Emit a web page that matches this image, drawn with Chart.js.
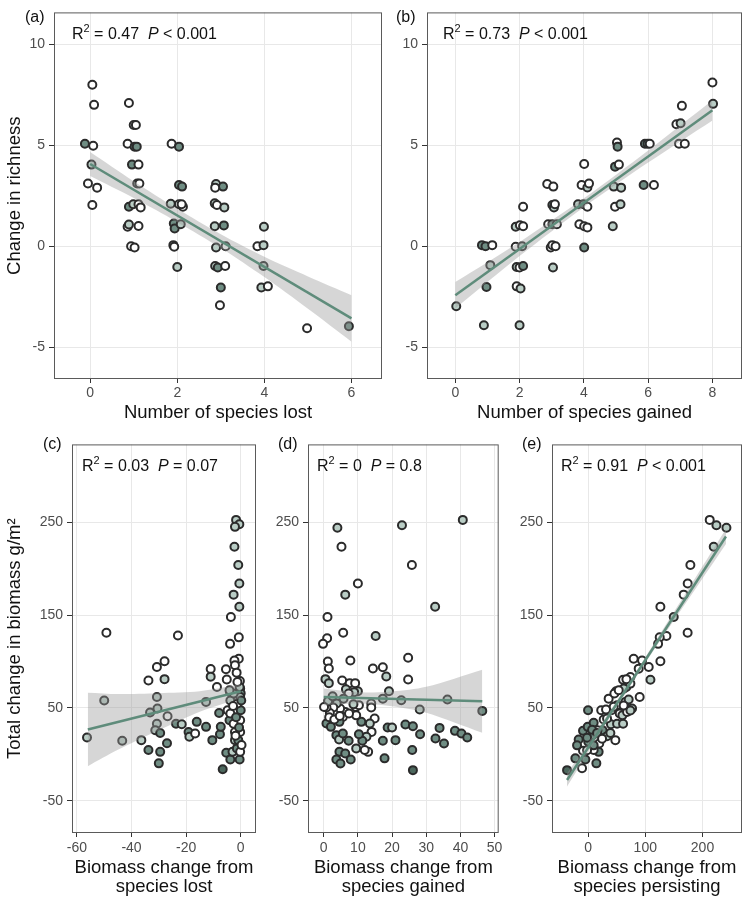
<!DOCTYPE html>
<html>
<head>
<meta charset="utf-8">
<script src="https://cdn.jsdelivr.net/npm/chart.js@4.4.1/dist/chart.umd.min.js"></script>
<style>
body { margin: 0; background: #fff; }
#wrap { position: relative; width: 748px; height: 907px; }
canvas { position: absolute; }
</style>
</head>
<body>
<div id="wrap">
<canvas id="chartA" width="390" height="432" style="left:0;top:0"></canvas>
<canvas id="chartB" width="358" height="432" style="left:390px;top:0"></canvas>
<canvas id="chartC" width="262" height="475" style="left:0;top:432px"></canvas>
<canvas id="chartD" width="243" height="475" style="left:262px;top:432px"></canvas>
<canvas id="chartE" width="243" height="475" style="left:505px;top:432px"></canvas>
</div>
<script>
// (a) species lost vs change in richness
const aX = [0.05, 0.09, -0.12, 0.07, 0.03, -0.05, 0.16, 0.05,
  0.89, 1.0, 1.05, 0.86, 1.02, 1.07, 0.96, 1.11, 1.08, 1.13,
  0.89, 0.99, 1.11, 1.16, 0.86, 0.89, 1.11, 0.94, 1.02,
  1.87, 2.04, 2.04, 2.11, 1.85, 2.04, 2.13, 2.1, 1.92, 1.94, 2.08, 1.91, 1.93, 2.0,
  2.89, 3.05, 2.87, 2.86, 2.91, 3.08, 2.86, 3.07, 2.89, 3.11, 2.87, 2.93, 3.1, 3.0, 2.98,
  3.99, 3.84, 3.98, 3.98, 3.93, 4.08, 4.98, 5.94];
const aY = [8, 7, 5.07, 4.97, 4.04, 3.1, 2.9, 2.04,
  7.09, 6.0, 6.0, 5.07, 4.93, 4.93, 4.04, 4.04, 3.1, 3.1,
  1.95, 2.08, 2.08, 1.92, 0.96, 1.07, 1.0, 0, -0.07,
  5.07, 4.93, 3.03, 2.95, 2.1, 2.08, 1.95, 2.08, 1.12, 0.88, 1.09, 0.05, -0.03, -1.03,
  3.08, 2.95, 2.9, 2.12, 2.04, 1.92, 0.99, 1.03, -0.07, 0, -0.98, -1.06, -0.98, -2.05, -2.93,
  0.96, 0, 0.05, -0.98, -2.05, -1.99, -4.07, -3.97];
const aShade = ['w', 'w', 'm', 'w', 'l', 'w', 'w', 'w',
  'w', 'w', 'w', 'w', 'm', 'm', 'm', 'w', 'l', 'w',
  'm', 'l', 'w', 'w', 'w', 'l', 'w', 'w', 'w',
  'w', 'm', 'm', 'm', 'l', 'w', 'w', 'w', 'm', 'm', 'l', 'w', 'w', 'l',
  'l', 'm', 'w', 'l', 'w', 'l', 'l', 'm', 'l', 'w', 'l', 'm', 'w', 'm', 'w',
  'l', 'w', 'l', 'l', 'l', 'w', 'w', 'm'];
const aLineX = [0, 6];
const aLineY = [4.07, -3.58];
const aBandX = [0, 1, 2, 3, 4, 5, 6];
const aBandHi = [4.67, 3.22, 1.85, 0.59, -0.53, -1.5, -2.43];
const aBandLo = [3.47, 2.38, 1.19, -0.09, -1.53, -3.1, -4.73];

// (b) species gained vs change in richness
const bX = [8.0, 8.02, 7.05, 6.88, 7.01, 6.96, 7.14, 5.9, 5.98, 6.05, 5.86, 6.18,
  5.03, 5.05, 4.97, 5.09, 4.93, 5.16, 4.97, 5.14, 4.9,
  4.01, 3.93, 4.11, 4.16, 3.82, 3.99, 4.11, 3.86, 4.01, 4.11, 4.01,
  2.86, 3.05, 3.02, 3.07, 3.1, 2.89, 3.02, 3.16, 2.97, 3.02, 3.12, 3.04,
  2.11, 1.88, 2.01, 2.11, 1.88, 2.08, 1.91, 2.0, 2.11, 1.91, 2.03, 2.0,
  0.83, 0.94, 1.15, 1.09, 0.97, 0.89, 0.03];
const bY = [8.11, 7.05, 6.95, 6.04, 6.09, 5.07, 5.07, 5.07, 5.07, 5.07, 3.03, 3.03,
  5.13, 4.93, 3.94, 4.04, 2.95, 2.9, 1.95, 2.08, 0.99,
  4.07, 3.03, 2.91, 3.1, 2.08, 2.08, 1.95, 1.09, 0.99, 0.93, -0.07,
  3.08, 2.95, 2.04, 1.92, 2.08, 1.09, 1.09, 1.09, -0.07, 0.05, 0, -1.06,
  1.95, 0.96, 1.04, 0.99, -0.03, 0, -1.03, -1.06, -0.98, -1.99, -2.1, -3.92,
  0.05, 0, 0.05, -0.94, -2.02, -3.92, -2.98];
const bShade = ['w', 'l', 'w', 'w', 'l', 'w', 'w', 'm', 'm', 'w', 'm', 'w',
  'w', 'm', 'm', 'w', 'l', 'l', 'w', 'l', 'l',
  'w', 'w', 'l', 'w', 'l', 'm', 'w', 'w', 'w', 'w', 'm',
  'w', 'w', 'm', 'l', 'w', 'w', 'm', 'w', 'w', 'w', 'w', 'l',
  'w', 'l', 'w', 'w', 'w', 'l', 'l', 'w', 'm', 'w', 'l', 'l',
  'm', 'm', 'w', 'l', 'm', 'l', 'l'];
const bLineX = [0, 8];
const bLineY = [-2.43, 6.73];
const bBandX = [0, 2, 4, 6, 8];
const bBandHi = [-1.78, 0.21, 2.37, 4.74, 7.23];
const bBandLo = [-3.08, -0.49, 1.93, 4.14, 6.23];

// (c) biomass change from species lost
const cX = [-1.7, -0.5, -2.1, -2.3, -0.9, -0.5, -2.6, -0.5, -3.6, -49.2, -23, -0.7, -3.9, -0.7, -2.3, -2.1,
  -27.9, -30.7, -11, -11, -5.4, -5.1, -33.8, -27.9, -0.3, -8.7, -3.9, -0.2, 0,
  -56.3, -50, -43.4, -36.4, -30.7, -30.5, -33.2, -30.7, -31.3, -29.5, -26.8, -27, -33.8, -29.5, -30,
  -23.7, -21.6, -19.1, -18.8, -16.7, -16.1, -12.7, -12.7, -10.4, -7.9, -6.6, -7.6, -7.3, -4.8, -4.1,
  -3.8, -5.3, -3.8, -3.0, -1.4, -0.4, -0.2, -2.1, -0.2, -1.2, -0.2, -2.6, -3.8, -1.7, 0, -1.2,
  -0.2, -2.6, -0.4, -1.2, -4.1, -2.1, -0.9, 0.3, -1.5, 0.2, -2.8, -0.6, -1.9];
const cY = [252.5, 247.8, 245, 223.5, 204, 184, 172, 159, 148, 131, 128, 126, 119, 103, 101, 96,
  100.3, 94, 92, 83.7, 91.7, 80.6, 79.5, 81, 79, 72.5, 67, 71, 65.8,
  18.2, 58, 14.6, 15.3, 61.8, 49.3, 45, 33, 26, 23, 41, 12, 4.6, 2.7, -9.7,
  33, 32.5, 24, 19, 22.5, 35, 56.5, 29.6, 15.3, 44.6, -16, 21.7, 29.6, 47.5, 36.8,
  58, 1.7, -5.5, 2.7, 6.4, -5.5, 2.7, 15.3, 24, 31.4, 36.8, 33, 44, 40, 47.5, 54.7,
  61.8, 65.5, 72.6, 78, 69, 24, 15.3, 10, 88, 58, 52, 29, 20];
const cShade = ['l', 'l', 'l', 'l', 'l', 'l', 'l', 'l', 'w', 'w', 'w', 'w', 'w', 'w', 'w', 'w',
  'w', 'w', 'w', 'l', 'w', 'w', 'w', 'l', 'w', 'w', 'm', 'w', 'm',
  'l', 'l', 'l', 'l', 'l', 'l', 'l', 'l', 'l', 'm', 'w', 'm', 'm', 'm', 'm',
  'm', 'l', 'm', 'l', 'w', 'm', 'l', 'm', 'm', 'm', 'd', 'm', 'm', 'w', 'm',
  'l', 'm', 'm', 'l', 'm', 'm', 'w', 'l', 'w', 'm', 'w', 'w', 'w', 'm', 'm', 'w',
  'l', 'l', 'l', 'w', 'l', 'w', 'm', 'w', 'w', 'm', 'w', 'm', 'w'];
const cLineX = [-56, 0];
const cLineY = [26.8, 67.9];
const cBandX = [-56, -45, -30, -15, 0];
const cBandHi = [66.3, 64.9, 65.9, 67.9, 75.4];
const cBandLo = [-12.7, 4.9, 25.9, 45.9, 60.4];

// (d) biomass change from species gained
const dX = [40.7, 4.0, 22.9, 5.2, 25.8, 10, 6.3, 32.6, 1.1, 5.7, 15.2, 1.0, -0.2, 1.2, 1.5, 7.8,
  24.7, 14.4, 17.3, 18.3, 24.7, 0.5, 5.4, 7.6, 9.2, 1.5, 10, 19.1, 6.5,
  46.4, 36.2, 28.1, 22.7, 17.3, 13.9, 13.9, 14.9, 13.5, 14, 12.5, 13, 12, 11.3, 10.3, 11,
  9.5, 9.4, 10.3, 8.7, 8.9, 7.3, 5.8, 6.3, 4.8, 3.8, 2.8, 1.8, 0.8, 1.3, 2.6, 0.8,
  2.1, 3.7, 4.5, 5.6, 7.3, 4.6, 3.7, 4.9, 6.3, 7.9, 5.6, 4.6, 7.4, 17.8, 17.3, 18.7,
  20, 21, 23.9, 26.1, 28.2, 25.9, 26.1, 32.7, 33.9, 35.2, 38.4, 40.3, 42, 0.1, 1.6, 3.1, 4.7, 9.5];
const dY = [252.5, 244, 246.8, 223.5, 204, 184, 172, 159, 148, 131, 127.4, 125, 119, 100, 92.4, 101,
  104, 92.4, 93.8, 83.8, 80.6, 81, 79.5, 76.7, 76.7, 76.7, 68, 68, 70,
  46.8, 59, 48.3, 58.3, 60, 54.7, 50.4, 38.6, 33.2, 24.2, 19, 2.7, 4.6, 14.6, 21.7, 35,
  42, 51, 53, 54, 67, 65.5, 60, 45.7, 49.3, 54.7, 50.4, 44.6, 50.4, 57.5, 62.6, 33.2,
  29.6, 20.7, 16, 22.5, 14.6, 2.7, -5.5, -9.8, 1, -5.5, 40.3, 35, 44, -4.3, 14.6, 29,
  29, 15.3, 32.2, 30.3, 21.7, 4.6, -17, 17, 28.5, 11.7, 25.3, 22.5, 18.2, 51, 40, 37.5, 41.4, 6.4];
const dShade = ['l', 'l', 'l', 'w', 'w', 'w', 'l', 'l', 'w', 'w', 'l', 'w', 'w', 'w', 'w', 'w',
  'w', 'w', 'w', 'l', 'w', 'l', 'w', 'w', 'w', 'l', 'l', 'l', 'l',
  'm', 'l', 'l', 'l', 'l', 'w', 'w', 'w', 'l', 'w', 'l', 'w', 'w', 'm', 'm', 'm',
  'w', 'w', 'w', 'l', 'l', 'w', 'l', 'w', 'w', 'l', 'w', 'w', 'w', 'l', 'l', 'm',
  'm', 'm', 'l', 'm', 'm', 'm', 'm', 'm', 'm', 'm', 'w', 'm', 'w', 'm', 'm', 'm',
  'l', 'm', 'm', 'm', 'm', 'm', 'd', 'm', 'm', 'm', 'm', 'm', 'm', 'w', 'w', 'w', 'w', 'l'];
const dLineX = [0, 46.4];
const dLineY = [61.8, 57.2];
const dBandX = [0, 10, 20, 30, 46.4];
const dBandHi = [70.8, 66.8, 67.8, 72.8, 91.2];
const dBandLo = [52.8, 54.8, 51.8, 44.8, 23.2];

// (e) biomass change from species persisting
const eX = [212.6, 224.3, 241.8, 219.6, 178.8, 174.1, 167.1, 126.4, 149.7, 174, 136.9, 125.2, 122.4,
  79.7, 94.4, 126.4, 106, 88.5, 74, 61.2, 109, 49, 67, 36, 90.2,
  -36.7, -22.2, -16.4, -8.8, -4.7, -8.8, 0, -0.6, 0.3, 9.8, 8, 14.5, 18.5, 9.8, 19.6, 27.3,
  25.4, 33.2, 46, 40.7, 40, 47.7, 50.7, 55.3, 51, 61.2, 60, 65.2, 71, 76.9, 68.2, 62.2,
  74, 67, 33.2, 23, 16.4, 31.4, 53.6,
  44.8, 62.2, 74, 7, 15.7, 39, -1.7, -19.2, 9.8, 24.5, -1.7, -10.5];
const eY = [252.5, 246.8, 244, 223.5, 204, 184, 172, 159, 148, 131, 127.4, 126, 119,
  103, 101, 100.3, 94, 92.3, 83.3, 80.4, 80.4, 68, 72.6, 60, 61.8,
  -17, -4.3, 16, 25.3, -5.5, 3.8, 47.5, 29.6, 13.5, 33.9, 20.7, -9.7, 2.7, 4.6, 11.7, 37.5,
  26, 19.6, 65.5, 47.5, 32.5, 15.3, 33, 44, 53, 33, 42, 56.5, 59, 49.3, 45.7, 70.8,
  76.2, 81, 38.6, 47.5, 26, 48.3, 69,
  51.2, 52.7, 47.3, 26.5, 23, 23, 18, 9.7, 9.7, 16.9, 4.4, -15];
const eShade = ['w', 'l', 'l', 'l', 'w', 'w', 'w', 'w', 'l', 'w', 'w', 'w', 'w',
  'w', 'w', 'w', 'w', 'w', 'w', 'w', 'l', 'w', 'w', 'w', 'w',
  'd', 'm', 'm', 'm', 'm', 'w', 'm', 'm', 'm', 'm', 'm', 'm', 'm', 'w', 'w', 'w',
  'm', 'l', 'w', 'w', 'l', 'w', 'l', 'w', 'w', 'l', 'l', 'w', 'l', 'l', 'w', 'l',
  'w', 'w', 'w', 'w', 'w', 'w', 'w',
  'w', 'w', 'l', 'm', 'm', 'l', 'm', 'm', 'm', 'w', 'w', 'w'];
const eLineX = [-36.7, 241];
const eLineY = [-27.6, 234.6];
const eBandX = [-37, 40, 100, 241];
const eBandHi = [-20.9, 48.3, 104.4, 242.6];
const eBandLo = [-34.9, 41.3, 98.4, 226.6];

// axes
const richTicks = [-5, 0, 5, 10];
const massTicks = [-50, 50, 150, 250];
const aXTicks = [0, 2, 4, 6];
const bXTicks = [0, 2, 4, 6, 8];
const cXTicks = [-60, -40, -20, 0];
const dXTicks = [0, 10, 20, 30, 40, 50];
const eXTicks = [0, 100, 200];

const shadeColors = { w: '#ffffff', l: '#b9cdc5', m: '#6f8d83', d: '#4c675d' };
const FONT = '"Liberation Sans", Arial, sans-serif';
Chart.defaults.font.family = FONT;

const panelDecor = {
  id: 'panelDecor',
  afterDraw(chart, args, o) {
    const ctx = chart.ctx, a = chart.chartArea;
    ctx.save();
    ctx.strokeStyle = '#5a5a5a';
    ctx.lineWidth = 1;
    ctx.strokeRect(a.left + 0.5, a.top + 0.5, a.width - 1, a.height - 1);
    ctx.fillStyle = '#111';
    ctx.textAlign = 'left';
    ctx.textBaseline = 'alphabetic';
    ctx.font = '16px ' + FONT;
    ctx.fillText(o.label, o.labelX, o.labelY);
    let x = a.left + o.statDx;
    const big = '16px ' + FONT;
    const pieces = [['R', big, 0], ['2', '11px ' + FONT, -7], [' = ' + o.r2 + '  ', big, 0],
      ['P', 'italic ' + big, 0], [' ' + o.p, big, 0]];
    pieces.forEach(([t, f, dy]) => {
      ctx.font = f;
      ctx.fillText(t, x, o.statY + dy);
      x += ctx.measureText(t).width;
    });
    ctx.restore();
  }
};

function makePanel(id, p) {
  const fills = p.shades.map(s => shadeColors[s]);
  new Chart(document.getElementById(id), {
    type: 'scatter',
    data: {
      datasets: [
        { type: 'line', data: p.lineX.map((x, i) => ({ x, y: p.lineY[i] })),
          borderColor: '#5f8c7b', borderWidth: 2.5, pointRadius: 0, fill: false },
        { type: 'line', data: p.bandX.map((x, i) => ({ x, y: p.bandHi[i] })),
          borderColor: 'rgba(0,0,0,0)', borderWidth: 0, pointRadius: 0, tension: 0.3, fill: false },
        { type: 'line', data: p.bandX.map((x, i) => ({ x, y: p.bandLo[i] })),
          borderColor: 'rgba(0,0,0,0)', borderWidth: 0, pointRadius: 0, tension: 0.3,
          fill: '-1', backgroundColor: 'rgba(153,153,153,0.4)' },
        { data: p.xs.map((x, i) => ({ x, y: p.ys[i] })),
          pointBackgroundColor: fills, pointBorderColor: '#2b2b2b', pointBorderWidth: 2, pointRadius: 4 }
      ]
    },
    options: {
      responsive: false,
      animation: false,
      layout: { padding: { top: p.padTop, right: p.padRight, left: 0, bottom: 0 } },
      plugins: {
        legend: { display: false },
        tooltip: { enabled: false },
        panelDecor: { label: p.label, labelX: p.labelX, labelY: p.labelY, r2: p.r2, p: p.pv, statDx: p.statDx, statY: p.statY }
      },
      scales: {
        x: {
          type: 'linear', min: p.xMin, max: p.xMax,
          afterBuildTicks: s => { s.ticks = p.xTicks.map(v => ({ value: v })); },
          afterFit: s => { s.height = p.xHeight; },
          grid: { color: '#e8e8e8', tickColor: '#333', tickLength: 4 },
          border: { display: false },
          ticks: { color: '#4d4d4d', font: { size: 14 }, padding: p.xTickPad, maxRotation: 0, callback: v => String(v) },
          title: { display: true, text: p.xTitle, color: '#111', font: { size: 18.5, lineHeight: p.xTitleLH },
            padding: { top: 0, bottom: p.xTitlePad } }
        },
        y: {
          type: 'linear', min: p.yMin, max: p.yMax,
          afterBuildTicks: s => { s.ticks = p.yTicks.map(v => ({ value: v })); },
          afterFit: s => { s.width = p.yWidth; },
          grid: { color: '#e8e8e8', tickColor: '#333', tickLength: 5 },
          border: { display: false },
          ticks: { color: '#4d4d4d', font: { size: 14 }, padding: 4, callback: v => String(v) },
          title: { display: !!p.yTitle, text: p.yTitle || '', color: '#111', font: { size: 18.5 },
            padding: { top: 4, bottom: 0 } }
        }
      }
    },
    plugins: [panelDecor]
  });
}

const topRow = { yMin: -6.58, yMax: 11.58, yTicks: richTicks, xHeight: 53, padTop: 12, xTickPad: 1.5,
  xTitleLH: 1.2, xTitlePad: 8, labelY: 22, statY: 39 };
const bottomRow = { yMin: -84.7, yMax: 333.8, yTicks: massTicks, xHeight: 74, padTop: 11, xTickPad: 2.5,
  xTitleLH: 1.05, xTitlePad: 10, labelY: 17, statY: 39, padRight: 6 };

makePanel('chartA', Object.assign({}, topRow, {
  xs: aX, ys: aY, shades: aShade, lineX: aLineX, lineY: aLineY, bandX: aBandX, bandHi: aBandHi, bandLo: aBandLo,
  xMin: -0.83, xMax: 6.7, xTicks: aXTicks, xTitle: 'Number of species lost', yTitle: 'Change in richness',
  yWidth: 54, padRight: 8, label: '(a)', labelX: 25, r2: '0.47', pv: '< 0.001', statDx: 18 }));

makePanel('chartB', Object.assign({}, topRow, {
  xs: bX, ys: bY, shades: bShade, lineX: bLineX, lineY: bLineY, bandX: bBandX, bandHi: bBandHi, bandLo: bBandLo,
  xMin: -0.88, xMax: 8.92, xTicks: bXTicks, xTitle: 'Number of species gained', yTitle: '',
  yWidth: 37, padRight: 6, label: '(b)', labelX: 6, r2: '0.73', pv: '< 0.001', statDx: 16 }));

makePanel('chartC', Object.assign({}, bottomRow, {
  xs: cX, ys: cY, shades: cShade, lineX: cLineX, lineY: cLineY, bandX: cBandX, bandHi: cBandHi, bandLo: cBandLo,
  xMin: -61.8, xMax: 5.6, xTicks: cXTicks, xTitle: ['Biomass change from', 'species lost'],
  yTitle: 'Total change in biomass g/m²', yWidth: 72, label: '(c)', labelX: 43, r2: '0.03', pv: '= 0.07', statDx: 10 }));

makePanel('chartD', Object.assign({}, bottomRow, {
  xs: dX, ys: dY, shades: dShade, lineX: dLineX, lineY: dLineY, bandX: dBandX, bandHi: dBandHi, bandLo: dBandLo,
  xMin: -4.6, xMax: 51.2, xTicks: dXTicks, xTitle: ['Biomass change from', 'species gained'],
  yTitle: '', yWidth: 46, label: '(d)', labelX: 16, r2: '0', pv: '= 0.8', statDx: 9 }));

makePanel('chartE', Object.assign({}, bottomRow, {
  xs: eX, ys: eY, shades: eShade, lineX: eLineX, lineY: eLineY, bandX: eBandX, bandHi: eBandHi, bandLo: eBandLo,
  xMin: -63, xMax: 269, xTicks: eXTicks, xTitle: ['Biomass change from', 'species persisting'],
  yTitle: '', yWidth: 47, label: '(e)', labelX: 17, r2: '0.91', pv: '< 0.001', statDx: 9 }));
</script>
</body>
</html>
